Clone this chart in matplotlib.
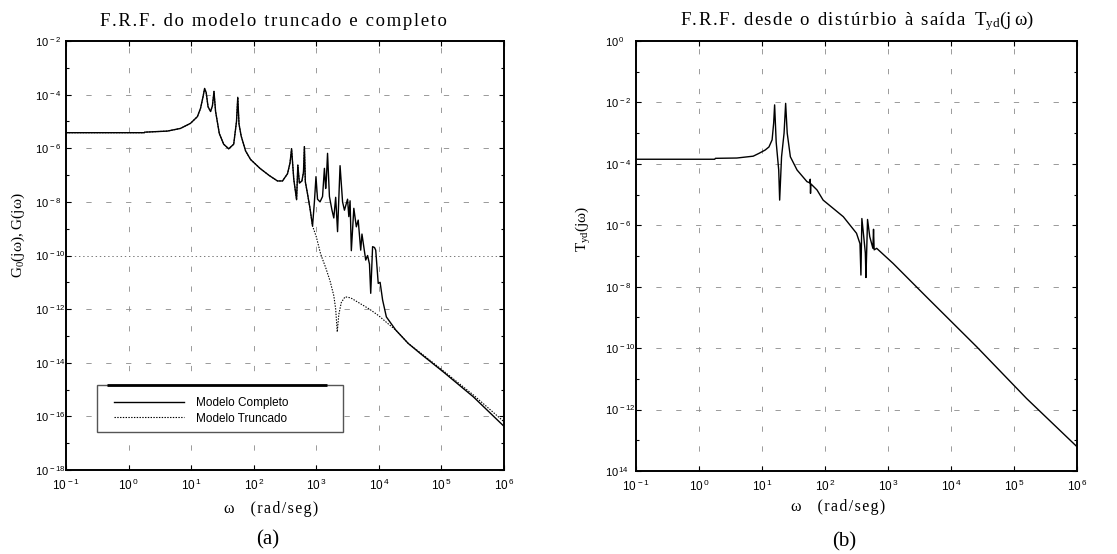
import numpy as np
import matplotlib
matplotlib.use("Agg")
import matplotlib.pyplot as plt
from matplotlib.ticker import FixedLocator, FixedFormatter, NullFormatter
from matplotlib.patches import Rectangle

plt.rcParams['font.family'] = ['Liberation Sans', 'DejaVu Sans']
plt.rcParams['mathtext.fontset'] = 'custom'
plt.rcParams['mathtext.rm'] = 'Liberation Serif'
plt.rcParams['mathtext.it'] = 'Liberation Serif:italic'
plt.rcParams['lines.scale_dashes'] = False
SERIF = ['Liberation Serif', 'DejaVu Serif']

# ---------------- data (log10 values) ----------------
# (a) complete model
complete_wexp = [-1.0, 0.25, 0.26, 0.62, 0.83, 0.99, 1.10, 1.15, 1.19, 1.215,
                 1.24, 1.27, 1.31, 1.34, 1.365, 1.39, 1.45, 1.52, 1.60, 1.68,
                 1.725, 1.745, 1.765, 1.80, 1.87, 1.95, 2.10, 2.25, 2.38, 2.46,
                 2.54, 2.58, 2.605, 2.64, 2.685, 2.705, 2.73, 2.77, 2.795, 2.81,
                 2.825, 2.86, 2.90, 2.94, 2.97, 2.995, 3.02, 3.06, 3.10, 3.13,
                 3.15, 3.16, 3.18, 3.21, 3.25, 3.28, 3.31, 3.34, 3.38, 3.42,
                 3.45, 3.50, 3.52, 3.54, 3.56, 3.60, 3.64, 3.67, 3.71, 3.73,
                 3.79, 3.82, 3.85, 3.87, 3.90, 3.93, 3.95, 3.99, 4.02, 4.06,
                 4.12, 4.27, 4.47, 4.66, 5.03, 5.51, 6.0]
complete_gexp = [-5.42, -5.42, -5.40, -5.36, -5.26, -5.07, -4.82, -4.51, -4.08, -3.77,
                 -3.92, -4.45, -4.63, -4.42, -3.88, -4.62, -5.45, -5.85, -6.02, -5.85,
                 -5.0, -4.1, -5.1, -5.55, -6.1, -6.42, -6.75, -7.02, -7.22, -7.22,
                 -6.95, -6.55, -6.02, -7.15, -7.92, -6.63, -7.3, -7.22, -6.9, -5.94,
                 -7.25, -7.7, -8.25, -8.9, -8.0, -7.06, -7.9, -8.0, -7.8, -6.75,
                 -7.5, -7.2, -6.19, -7.8, -8.3, -8.6, -7.83, -9.11, -6.65, -8.0,
                 -8.31, -7.9, -8.55, -7.96, -9.82, -8.24, -8.93, -8.68, -9.8, -9.2,
                 -10.17, -10.0, -10.32, -11.41, -9.67, -9.7, -9.8, -11.04, -11.0, -11.66,
                 -12.29, -12.78, -13.28, -13.65, -14.34, -15.27, -16.37]

# (a) truncated model
trunc_wexp = [-1.0, 0.25, 0.26, 0.62, 0.83, 0.99, 1.10, 1.15, 1.19, 1.215,
              1.24, 1.27, 1.31, 1.34, 1.365, 1.39, 1.45, 1.52, 1.60, 1.68,
              1.725, 1.745, 1.765, 1.80, 1.87, 1.95, 2.10, 2.25, 2.38, 2.46,
              2.54, 2.58, 2.605, 2.64, 2.685, 2.705, 2.73, 2.77, 2.795, 2.81,
              2.825, 2.86, 2.90, 2.94, 3.0, 3.07, 3.15, 3.22, 3.28, 3.31,
              3.335, 3.36, 3.40, 3.46, 3.55, 3.70, 3.85, 4.0, 4.15, 4.27,
              4.47, 4.66, 5.03, 5.51, 6.0]
trunc_gexp = [-5.42, -5.42, -5.40, -5.36, -5.26, -5.07, -4.82, -4.51, -4.08, -3.77,
              -3.92, -4.45, -4.63, -4.42, -3.88, -4.62, -5.45, -5.85, -6.02, -5.85,
              -5.0, -4.1, -5.1, -5.55, -6.1, -6.42, -6.75, -7.02, -7.22, -7.22,
              -6.95, -6.55, -6.02, -7.15, -7.92, -6.63, -7.3, -7.22, -6.9, -5.94,
              -7.25, -7.7, -8.25, -8.9, -9.3, -9.95, -10.45, -10.95, -11.5, -12.0,
              -12.85, -12.2, -11.75, -11.54, -11.58, -11.79, -12.0, -12.25, -12.55, -12.78,
              -13.28, -13.62, -14.3, -15.2, -16.2]

threshold_level = 1e-10

# (b) disturbance -> output
tyd_wexp = [-1.0, 0.25, 0.26, 0.60, 0.86, 0.95, 1.05, 1.11, 1.16, 1.185,
            1.20, 1.225, 1.265, 1.28, 1.31, 1.35, 1.375, 1.40, 1.45, 1.556,
            1.714, 1.76, 1.765, 1.77, 1.775, 1.873, 1.97, 2.29, 2.50, 2.555,
            2.57, 2.585, 2.62, 2.64, 2.65, 2.675, 2.71, 2.76, 2.77, 2.78,
            2.82, 3.08, 3.61, 4.41, 5.20, 6.0]
tyd_gexp = [-3.85, -3.85, -3.82, -3.81, -3.75, -3.66, -3.55, -3.45, -3.22, -2.67,
            -2.08, -3.3, -4.2, -5.18, -3.77, -3.0, -2.03, -3.0, -3.77, -4.2,
            -4.58, -4.62, -4.50, -4.96, -4.65, -4.85, -5.18, -5.72, -6.26, -6.6,
            -7.62, -5.78, -6.48, -6.9, -7.70, -5.81, -6.37, -6.75, -6.13, -6.8,
            -6.75, -7.24, -8.33, -9.96, -11.64, -13.21]

x_exps = [-1, 0, 1, 2, 3, 4, 5, 6]
a_y_exps = [-18, -16, -14, -12, -10, -8, -6, -4, -2]
a_y_labels = ['-18', '-16', '-14', '-12', '-10', '-8', '-6', '-4', '-2']
b_y_exps = [-14, -12, -10, -8, -6, -4, -2, 0]
b_y_labels = ['14', '-12', '-10', '-8', '-6', '-4', '-2', '0']

legend_labels = ['Modelo Completo', 'Modelo Truncado']

# ---------------- figure ----------------
fig = plt.figure(figsize=(11.17, 5.54), dpi=100)
ax1 = fig.add_axes([0.0591, 0.1516, 0.3921, 0.7744])
ax2 = fig.add_axes([0.5694, 0.1498, 0.3948, 0.7762])

GRID = dict(color='#8a8a8a', lw=0.6, ls=(0, (3.8, 10.5)))
SP = '\u200a'


def spaced(s):
    return SP.join(s)


def decorate(ax, yexps, ylabels, ylim, skip_grid=()):
    ax.set_xscale('log')
    ax.set_yscale('log')
    ax.set_xlim(10.0 ** x_exps[0], 10.0 ** x_exps[-1])
    ax.set_ylim(*ylim)
    ax.xaxis.set_major_locator(FixedLocator([10.0 ** e for e in x_exps]))
    ax.xaxis.set_major_formatter(FixedFormatter(
        [r'$\mathdefault{10^{\,%d}}$' % e for e in x_exps]))
    ax.xaxis.set_minor_locator(FixedLocator([]))
    ax.yaxis.set_major_locator(FixedLocator([10.0 ** e for e in yexps]))
    ax.yaxis.set_major_formatter(FixedFormatter(
        [r'$\mathdefault{10^{\,%s}}$' % s for s in ylabels]))
    ax.yaxis.set_minor_locator(FixedLocator([10.0 ** (e + 1) for e in yexps[:-1]]))
    ax.yaxis.set_minor_formatter(NullFormatter())
    ax.tick_params(which='both', direction='in', top=True, right=True, width=0.8)
    ax.tick_params(axis='x', labelsize=8.5, pad=5.5)
    ax.tick_params(axis='y', labelsize=8.0, pad=22.5)
    ax.tick_params(which='major', length=3.5)
    ax.tick_params(which='minor', length=2.2)
    for lab in ax.get_yticklabels():
        lab.set_horizontalalignment('left')
    for e in x_exps[1:-1]:
        ax.axvline(10.0 ** e, zorder=1, **GRID)
    for e in yexps[1:-1]:
        if e in skip_grid:
            continue
        ax.axhline(10.0 ** e, zorder=1, **GRID)
    for s in ax.spines.values():
        s.set_linewidth(1.4)


# ---- (a)
decorate(ax1, a_y_exps, a_y_labels, (1e-18, 1e-2), skip_grid=(-10,))
ax1.axhline(threshold_level, color='#777777', lw=0.7, ls=(0, (1, 2)), zorder=1)
l1, = ax1.plot(10.0 ** np.array(complete_wexp), 10.0 ** np.array(complete_gexp),
               color='black', lw=1.0, zorder=3)
l2, = ax1.plot(10.0 ** np.array(trunc_wexp), 10.0 ** np.array(trunc_gexp),
               color='black', lw=0.8, ls=(0, (1, 1)), zorder=3)

ax1.add_patch(Rectangle((0.071, 0.088), 0.561, 0.109, transform=ax1.transAxes,
                        facecolor='white', edgecolor='#555555', lw=1.0, zorder=4))
ax1.plot([0.094, 0.595], [0.197, 0.197], transform=ax1.transAxes, color='black',
         lw=2.0, zorder=4.5, solid_capstyle='butt')
ax1.legend([l1, l2], legend_labels, loc='center left',
           bbox_to_anchor=(0.105, 0.138), frameon=False, fontsize=8.5,
           handlelength=5.9, handletextpad=1.05, labelspacing=0.3,
           borderpad=0.2, borderaxespad=0.0)

ax1.set_title(spaced('F.R.F. do modelo truncado e completo'), family=SERIF,
              fontsize=13.5, pad=11, x=0.474)
ax1.set_ylabel('G$_0$(j\u03c9), G(j\u03c9)', family=SERIF, fontsize=11, va='center')
ax1.yaxis.set_label_coords(-0.110, 0.548)
ax1.set_xlabel('\u03c9    ' + spaced('(rad/seg)'), family=SERIF, fontsize=11.5, va='center')
ax1.xaxis.set_label_coords(0.468, -0.091)

# ---- (b)
decorate(ax2, b_y_exps, b_y_labels, (1e-14, 1e0))
ax2.plot(10.0 ** np.array(tyd_wexp), 10.0 ** np.array(tyd_gexp),
         color='black', lw=1.0, zorder=3)
ax2.set_title(spaced('F.R.F. desde o distúrbio à saída') + '\u2006' * 3
              + 'T$_{\\mathrm{yd}}$(j' + '\u2006' + '\u03c9)',
              family=SERIF, fontsize=13.5, pad=11, x=0.5)
ax2.set_ylabel('T$_{\\mathrm{yd}}$(j\u03c9)', family=SERIF, fontsize=11, va='center')
ax2.yaxis.set_label_coords(-0.118, 0.563)
ax2.set_xlabel('\u03c9    ' + spaced('(rad/seg)'), family=SERIF, fontsize=11.5, va='center')
ax2.xaxis.set_label_coords(0.458, -0.084)

fig.text(267.5 / 1117, 1 - 540 / 554, '(a)', family=SERIF, fontsize=15,
         ha='center', va='center')
fig.text(844 / 1117, 1 - 541.7 / 554, '(b)', family=SERIF, fontsize=15,
         ha='center', va='center')

fig.savefig('out.png', dpi=100)
